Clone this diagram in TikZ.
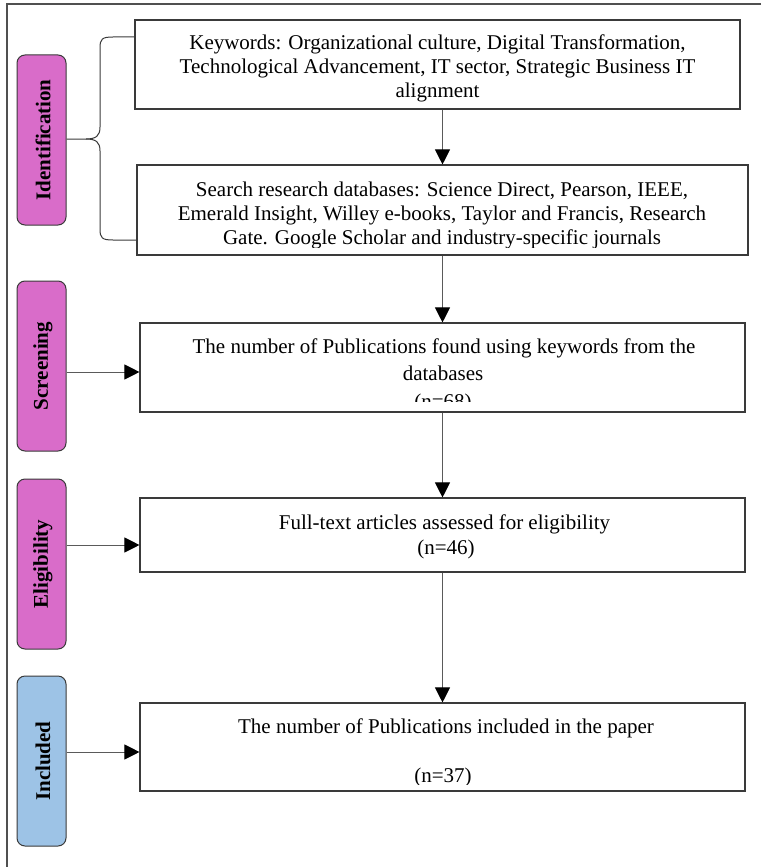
\documentclass[tikz,border=0pt]{standalone}
\usepackage{fontspec}
\setmainfont{Liberation Serif}
\usetikzlibrary{arrows.meta}
\definecolor{boxgray}{HTML}{3A3A3A}
\definecolor{arrgray}{HTML}{5A5A5A}
\definecolor{framegray}{HTML}{505050}
\definecolor{pillpink}{HTML}{D96CC9}
\definecolor{pillblue}{HTML}{9DC3E6}
\begin{document}
\begin{tikzpicture}[x=1pt,y=-1pt,
  box/.style={draw=boxgray, line width=1.1pt, rectangle, inner sep=0pt, fill=white},
  pill/.style={draw=boxgray, line width=1pt, rounded corners=8pt, minimum width=49pt, minimum height=170pt, inner sep=0pt},
  txt/.style={font=\fontsize{21}{24}\selectfont, anchor=base, inner sep=0pt},
  lbl/.style={font=\fontsize{21}{24}\selectfont\bfseries, rotate=90, inner sep=0pt},
  arr/.style={draw=arrgray, line width=1pt, -{Triangle[length=15pt,width=15pt,color=black]}},
  brace/.style={draw=boxgray, line width=1pt},
]
\useasboundingbox (0,0) rectangle (761,867);
% frame (right and bottom sides lie outside the picture)
\draw[framegray, line width=1.5pt] (761,4) -- (7,4) -- (7,870);

% stage pills
\node[pill, fill=pillpink] (id) at (41.5,140) {};
\node[lbl] (idt) at ([xshift=1.5pt]id.center) {Identification};
\node[pill, fill=pillpink] (scr) at (41.5,366) {};
\node[lbl] (scrt) at ([xshift=1.5pt]scr.center) {Screening};
\node[pill, fill=pillpink] (elig) at (41.5,564) {};
\node[lbl] (eligt) at ([xshift=1.5pt]elig.center) {Eligibility};
\node[pill, fill=pillblue] (incl) at (41.5,761) {};
\node[lbl] (inclt) at ([xshift=1.5pt]incl.center) {Included};

% boxes
\node[box, minimum width=605pt, minimum height=89pt] (kw) at (437.5,64.5) {};
\node[box, minimum width=611pt, minimum height=90pt] (srch) at (442.5,210) {};
\node[box, minimum width=605pt, minimum height=89pt] (pubs) at (442.5,367.5) {};
\node[box, minimum width=605pt, minimum height=74pt] (full) at (442.5,535) {};
\node[box, minimum width=605pt, minimum height=88pt] (inc) at (442.5,747) {};

% box texts
\begin{scope}
\clip (kw.north west) rectangle (kw.south east);
\node[txt] (kw1) at (437.5,50) {Keywords: Organizational culture, Digital Transformation,};
\node[txt] (kw2) at (437.5,74) {Technological Advancement, IT sector, Strategic Business IT};
\node[txt] (kw3) at (437.5,97.5) {alignment};
\end{scope}
\begin{scope}
\clip (srch.north west) rectangle ([yshift=8.5pt]srch.south east);
\node[txt] (s1) at (442,196) {Search research databases: Science Direct, Pearson, IEEE,};
\node[txt] (s2) at (442,220) {Emerald Insight, Willey e-books, Taylor and Francis, Research};
\node[txt] (s3) at (442,244) {Gate. Google Scholar and industry-specific journals};
\end{scope}
\begin{scope}
\clip (pubs.north west) rectangle ([yshift=11pt]pubs.south east);
\node[txt] (p1) at (444,353) {The number of Publications found using keywords from the};
\node[txt] (p2) at (443,380.5) {databases};
\node[txt] (p3) at (443,408) {(n=68)};
\end{scope}
\node[txt] (f1) at (444.5,529) {Full-text articles assessed for eligibility};
\node[txt] (f2) at (446,554) {(n=46)};
\begin{scope}
\clip (inc.north west) rectangle ([yshift=7.5pt]inc.south east);
\node[txt] (i1) at (446,733) {The number of Publications included in the paper};
\node[txt] (i2) at (443,782) {(n=37)};
\end{scope}

% brace from Identification to the two first boxes
\draw[brace] (kw.west |- 0,37) -- (113,37) .. controls (102,37) and (100,39) .. (100,48)
  -- (100,127) .. controls (100,136) and (96,139) .. (86,139) -- (id.east |- 0,139);
\draw[brace] (86,139) .. controls (96,139) and (100,142) .. (100,151)
  -- (100,229) .. controls (100,238) and (102,240) .. (113,240) -- (srch.west |- 0,240);

% vertical arrows
\draw[arr] (srch.north |- kw.south) -- (srch.north);
\draw[arr] (srch.south) -- (pubs.north);
\draw[arr] (pubs.south) -- (full.north);
\draw[arr] (full.south) -- (inc.north);

% horizontal arrows
\draw[arr] (scr.east |- 0,372) -- (pubs.west |- 0,372);
\draw[arr] (elig.east |- 0,545) -- (full.west |- 0,545);
\draw[arr] (incl.east |- 0,752) -- (inc.west |- 0,752);
\end{tikzpicture}
\end{document}
